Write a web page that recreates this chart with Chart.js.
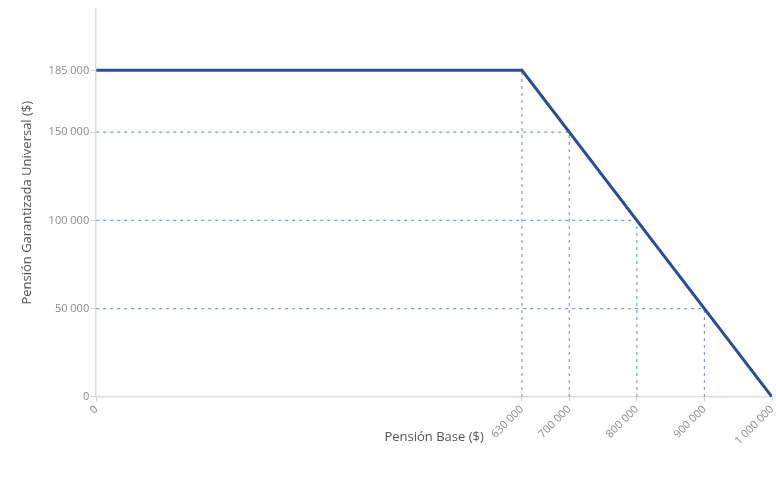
<!DOCTYPE html>
<html>
<head>
<meta charset="utf-8">
<script src="https://cdn.jsdelivr.net/npm/chart.js@4.4.1/dist/chart.umd.min.js"></script>
<style>
  html, body { margin: 0; padding: 0; background: #fff; }
  #wrap { width: 776px; height: 479px; }
</style>
</head>
<body>
<div id="wrap"><canvas id="pgu"></canvas></div>
<script>
// Pensión Garantizada Universal vs Pensión Base
const baseX = [0, 630000, 1000000];
const pguY = [185000, 185000, 0];

// dotted guide lines: point on the curve they reach
const guideX = [630000, 700000, 800000, 900000];
const guideY = [185000, 150000, 100000, 50000];

const xTicks = [0, 630000, 700000, 800000, 900000, 1000000];
const yTicks = [0, 50000, 100000, 150000, 185000];

const lineColor = '#2b4c9b';
const guideColor = '#7f9ad6';
const textColor = '#8a8a8a';

function fmt(v) {
  return String(v).replace(/\B(?=(\d{3})+(?!\d))/g, ' ');
}

const datasets = [{
  data: baseX.map((x, i) => ({ x: x, y: pguY[i] })),
  borderColor: lineColor,
  borderWidth: 3,
  pointRadius: 0,
  tension: 0,
  order: 0
}];

// vertical guides from x axis up to the curve
guideX.forEach((x, i) => {
  datasets.push({
    data: [{ x: x, y: 0 }, { x: x, y: guideY[i] }],
    borderColor: guideColor,
    borderWidth: 1.2,
    borderDash: [3, 4],
    pointRadius: 0,
    order: 1
  });
});
// horizontal guides from y axis across to the curve (skip the flat top)
guideX.slice(1).forEach((x, i) => {
  datasets.push({
    data: [{ x: 0, y: guideY[i + 1] }, { x: x, y: guideY[i + 1] }],
    borderColor: guideColor,
    borderWidth: 1.2,
    borderDash: [3, 4],
    pointRadius: 0,
    order: 1
  });
});

new Chart(document.getElementById('pgu'), {
  type: 'line',
  data: { datasets: datasets },
  options: {
    responsive: true,
    maintainAspectRatio: false,
    animation: false,
    layout: { padding: { top: 8, right: 4, left: 15, bottom: 34 } },
    plugins: { legend: { display: false }, tooltip: { enabled: false } },
    scales: {
      x: {
        type: 'linear',
        min: 0,
        max: 1000000,
        afterBuildTicks: (axis) => { axis.ticks = xTicks.map(v => ({ value: v })); },
        // rotated labels hang to the left, no need for extra room on the right
        afterFit: (axis) => { axis.paddingRight = 0; },
        grid: { drawOnChartArea: false, tickLength: 4, color: '#ccc' },
        border: { color: '#ddd', width: 1.5 },
        ticks: {
          minRotation: 45,
          maxRotation: 45,
          padding: 2,
          color: textColor,
          font: { family: 'Open Sans', size: 11 },
          callback: (v) => fmt(v)
        },
        title: {
          display: true,
          text: 'Pensión Base ($)',
          color: '#555',
          font: { family: 'Open Sans', size: 13 },
          padding: { top: -20, bottom: 0 }
        }
      },
      y: {
        min: 0,
        max: 220000,
        afterBuildTicks: (axis) => { axis.ticks = yTicks.map(v => ({ value: v })); },
        grid: { drawOnChartArea: false, tickLength: 5, color: '#ccc' },
        border: { color: '#ddd', width: 1.5 },
        ticks: {
          color: textColor,
          font: { family: 'Open Sans', size: 11 },
          padding: 2,
          callback: (v) => fmt(v)
        },
        title: {
          display: true,
          text: 'Pensión Garantizada Universal ($)',
          color: '#555',
          font: { family: 'Open Sans', size: 13 },
          padding: { bottom: 12 }
        }
      }
    }
  }
});
</script>
</body>
</html>
